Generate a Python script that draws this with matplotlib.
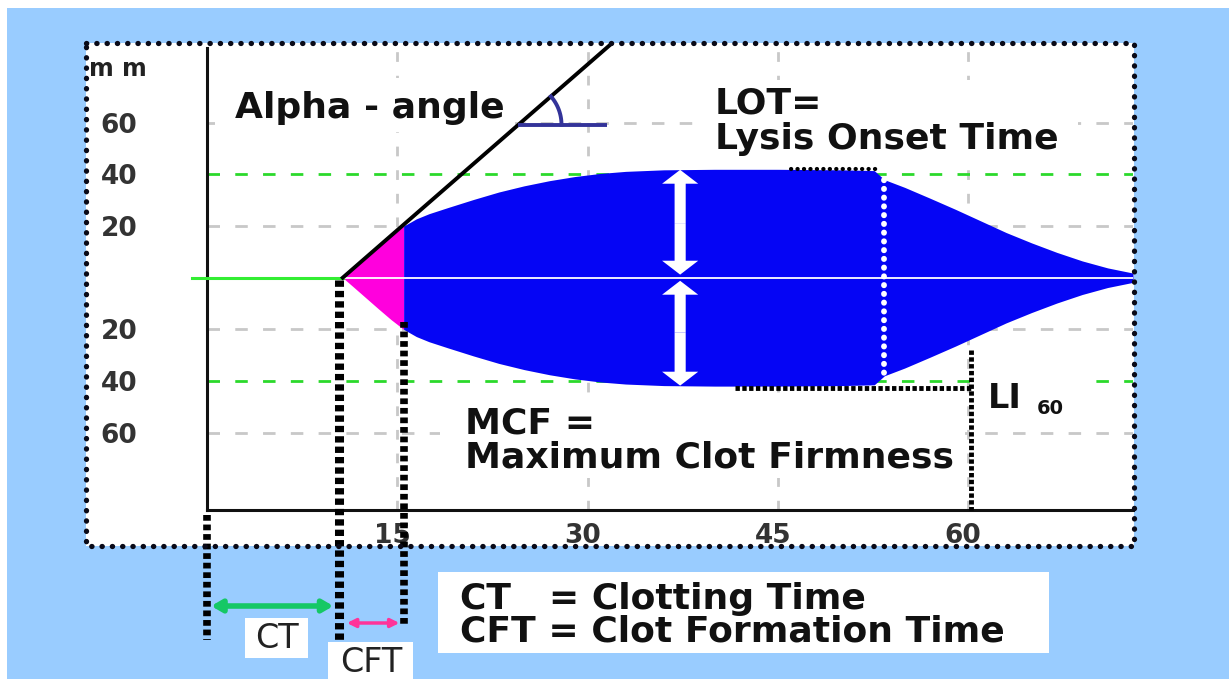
import numpy as np
import matplotlib
matplotlib.use("Agg")
import matplotlib.pyplot as plt
import matplotlib.transforms as mtransforms
from matplotlib.patches import Rectangle, FancyArrowPatch

# ---------------- data ----------------
time_min = [10.7, 11.5, 12.5, 13.5, 14.5, 15.5, 16.5, 17.5, 19, 21, 23, 25, 27, 29, 31, 33,
            36, 40, 45, 50, 52.6, 53.4, 55, 57, 59, 61, 63, 65, 67, 69, 71, 73]
amplitude_mm = [0, 3.4, 7.7, 12.0, 16.2, 20.0, 22.8, 24.8, 27.2, 30.3, 33.2, 35.6, 37.6, 39.2, 40.4, 41.2,
                41.8, 42.0, 42.0, 41.8, 41.5, 38.0, 35.0, 30.8, 26.5, 22.0, 17.5, 13.5, 9.8, 6.5, 3.8, 1.8]

ct_min = 10.7
cft_end_min = 15.5
mcf_mm = 42.3
mcf_arrow_min = 37.3
lot_min = 53.0
lot_mark_start_min = 46.0
lot_span_mm = 37.8
li_min = 60.2
li_mark_start_min = 41.6
li_level_mm = -42.6
li_top_mm = -28.0
alpha_slope = 4.28      # mm per min
alpha_end_min = 31.8
angle_level_mm = 59.3
angle_end_min = 31.5

x_ticks = [15, 30, 45, 60]
x_labels = ["15", "30", "45", "60"]
y_ticks = [60, 40, 20, -20, -40, -60]
y_labels = ["60", "40", "20", "20", "40", "60"]
grey_levels = [60, 20, -20, -60]
green_levels = [40, -40]
x_max = 73
y_lo, y_hi = -90, 89

# ---------------- figure ----------------
W, H = 1229, 679
fig = plt.figure(figsize=(W / 100, H / 100), dpi=100)
fig.patch.set_facecolor("white")
px = mtransforms.Affine2D().scale(1 / W, -1 / H).translate(0, 1) + fig.transFigure

fig.add_artist(Rectangle((7, 8), W - 7, H - 8, transform=px, facecolor="#99CCFF",
                         edgecolor="none", zorder=-3))
fig.add_artist(Rectangle((86, 42.5), 1048, 503, transform=px, facecolor="white",
                         edgecolor="none", zorder=-2))
fig.add_artist(Rectangle((86, 42.5), 1048, 503, transform=px, facecolor="none",
                         edgecolor="#0a0a18", lw=3.8, linestyle=(0, (0.05, 1.9)),
                         capstyle="round", zorder=2))
fig.text(118, 69, "m m", transform=px, ha="center", va="center", fontsize=17,
         fontweight="bold", color="#222222", zorder=1)

ax = fig.add_axes([207 / W, 1 - 510 / H, (1133 - 207) / W, (510 - 48) / H])
ax.set_xlim(0, x_max)
ax.set_ylim(y_lo, y_hi)
ax.patch.set_visible(False)
for s in ["top", "right"]:
    ax.spines[s].set_visible(False)
for s in ["left", "bottom"]:
    ax.spines[s].set_linewidth(2.2)
    ax.spines[s].set_color("#111111")
ax.set_xticks([])
ax.set_yticks(y_ticks, y_labels)
ax.tick_params(axis="y", length=0, pad=50, labelsize=19)
for lbl in ax.get_yticklabels():
    lbl.set_fontweight("bold")
    lbl.set_color("#333333")

blend_x_px = mtransforms.blended_transform_factory(ax.transData, px)
lbl_shift = mtransforms.ScaledTranslation(-5 / 100, 0, fig.dpi_scale_trans)
for t, lab in zip(x_ticks, x_labels):
    ax.text(t, 536, lab, transform=blend_x_px + lbl_shift, ha="center", va="center",
            fontsize=19, fontweight="bold", color="#333333", clip_on=False)

# grid
for lv in grey_levels:
    ax.axhline(lv, color="#C8C8C8", lw=2, dashes=(4.5, 5.5), zorder=0.5)
for lv in green_levels:
    ax.axhline(lv, color="#2BD92B", lw=2, dashes=(4.5, 5.5), zorder=0.6)
for t in x_ticks:
    ax.axvline(t, color="#C8C8C8", lw=2, dashes=(3.5, 5), zorder=0.5)

# envelope
t_arr = np.array(time_min)
a_arr = np.array(amplitude_mm)
m_mask = t_arr <= cft_end_min
b_mask = t_arr >= cft_end_min
ax.fill_between(t_arr[m_mask], -a_arr[m_mask], a_arr[m_mask], color="#FF00DD", lw=0, zorder=2)
ax.fill_between(t_arr[b_mask], -a_arr[b_mask], a_arr[b_mask], color="#0505F5", lw=0, zorder=2)

# baseline
ax.plot([-1.2, ct_min], [0, 0], color="#33EE33", lw=2.2, clip_on=False, zorder=3)
ax.plot([ct_min, x_max], [0, 0], color="white", lw=1.3, zorder=3)

# alpha line + angle
ax.plot([ct_min, alpha_end_min], [0, alpha_slope * (alpha_end_min - ct_min)], color="black",
        lw=2.8, clip_on=False, zorder=4)
t_vertex = ct_min + angle_level_mm / alpha_slope
ax.plot([t_vertex, angle_end_min], [angle_level_mm, angle_level_mm], color="#333399", lw=2.8,
        zorder=4, solid_capstyle="butt")
bb = ax.get_position()
sx = bb.width * W / x_max
sy = bb.height * H / (y_hi - y_lo)
theta_end = np.arctan(alpha_slope * sy / sx)
th = np.linspace(0, theta_end, 30)
r_px = 43
ax.plot(t_vertex + r_px * np.cos(th) / sx, angle_level_mm + r_px * np.sin(th) / sy,
        color="#333399", lw=2.8, zorder=4)

# MCF white arrows
mid_top = mcf_mm / 2
for y_start, y_ends in [(mid_top, (mcf_mm - 0.5, 1.2)), (-mid_top, (-1.2, -mcf_mm + 0.5))]:
    for y_end in y_ends:
        ax.add_patch(FancyArrowPatch((mcf_arrow_min, y_start), (mcf_arrow_min, y_end),
                                     arrowstyle="simple,head_length=10,head_width=26,tail_width=8",
                                     mutation_scale=1, color="white", lw=0, zorder=4,
                                     shrinkA=0, shrinkB=0))

# LOT markers
ax.plot([lot_mark_start_min, lot_min], [mcf_mm, mcf_mm], color="black", lw=3,
        linestyle=(0, (0.05, 1.5)), dash_capstyle="round", zorder=4)
ax.plot([lot_min + 0.4, lot_min + 0.4], [lot_span_mm, -lot_span_mm], color="white", lw=4.2,
        linestyle=(0, (0.05, 1.45)), dash_capstyle="round", zorder=4)

# LI60 markers
ax.plot([li_mark_start_min, li_min], [li_level_mm, li_level_mm], color="black", lw=3.5,
        linestyle=(0, (0.9, 0.5)), zorder=4)
ax.plot([li_min, li_min], [li_top_mm, y_lo], color="black", lw=3.5,
        linestyle=(0, (0.9, 0.5)), zorder=4, clip_on=False)

# CT / CFT vertical dotted lines
def data_y_to_px(y):
    return H - ax.transData.transform((0, y))[1]

ct_bottom_px = 640
cft_bottom_px = 625
cft_top_mm = -17.0
ax.plot([0, 0], [515, ct_bottom_px], transform=blend_x_px, color="black", lw=5.5,
        linestyle=(0, (0.75, 0.5)), clip_on=False, zorder=4)
ax.plot([ct_min - 0.3, ct_min - 0.3], [data_y_to_px(0) + 2, ct_bottom_px], transform=blend_x_px,
        color="black", lw=6.5, linestyle=(0, (0.7, 0.45)), clip_on=False, zorder=4)
ax.plot([cft_end_min, cft_end_min], [data_y_to_px(cft_top_mm), cft_bottom_px], transform=blend_x_px,
        color="black", lw=5.5, linestyle=(0, (0.75, 0.5)), clip_on=False, zorder=4)

# CT / CFT arrows
ax.add_patch(FancyArrowPatch((0, 606), (ct_min - 0.3, 606), transform=blend_x_px,
                             arrowstyle="<|-|>,head_length=6,head_width=3.5", mutation_scale=1,
                             color="#15C865", lw=4, shrinkA=3, shrinkB=4, clip_on=False, zorder=4))
ax.add_patch(FancyArrowPatch((ct_min, 623), (cft_end_min, 623), transform=blend_x_px,
                             arrowstyle="<|-|>,head_length=5,head_width=2.5", mutation_scale=1,
                             color="#FF3399", lw=2.5, shrinkA=3, shrinkB=3, clip_on=False, zorder=4))

# text boxes
def wbox(x0, y0, x1, y1):
    ax.add_patch(Rectangle((x0, y0), x1 - x0, y1 - y0, transform=px, facecolor="white",
                           edgecolor="none", clip_on=False, zorder=3))

def label(x, y, s, fs=26, weight="bold", ha="left", color="#111111"):
    ax.text(x, y, s, transform=px, ha=ha, va="center", fontsize=fs, fontweight=weight,
            color=color, clip_on=False, zorder=5)

wbox(215, 78, 515, 132)
label(235, 108, "Alpha - angle")
wbox(705, 80, 1078, 158)
label(715, 103, "LOT=")
label(715, 139, "Lysis Onset Time")
wbox(440, 396, 965, 478)
label(465, 423, "MCF =")
label(465, 458, "Maximum Clot Firmness")
wbox(980, 377, 1082, 425)
label(988, 399, "LI", fs=24)
label(1037, 409, "60", fs=14)
wbox(438, 572, 1049, 653)
label(460, 599, "CT   = Clotting Time")
label(460, 632, "CFT = Clot Formation Time")
wbox(245, 618, 308, 658)
label(277, 638, "CT", fs=24, weight="normal", ha="center", color="#222222")
wbox(328, 642, 413, 680)
label(371, 662, "CFT", fs=24, weight="normal", ha="center", color="#222222")

fig.savefig("out.png", dpi=100)
